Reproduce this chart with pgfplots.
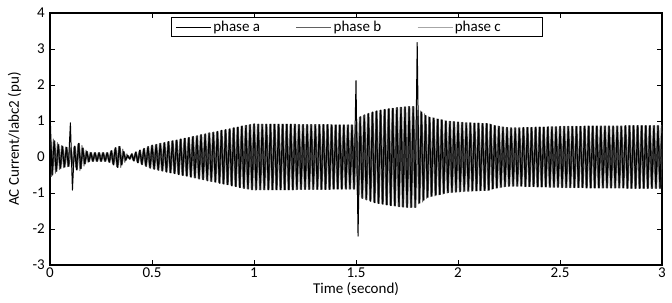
\documentclass[border=0pt]{standalone}
\usepackage{fontspec}
\setmainfont{Carlito}
\usepackage{pgfplots}
\pgfplotsset{compat=1.18}
\usepackage{pgfplotstable}
\pgfplotstableread{
t a b c
0.00 1.30 0.50 -0.55
0.01 -0.50 -0.50 0.50
0.02 0.45 0.45 -0.45
0.03 -0.40 -0.40 0.40
0.04 0.35 0.35 -0.35
0.05 -0.32 -0.32 0.32
0.06 0.30 0.30 -0.30
0.07 -0.28 -0.28 0.28
0.08 0.27 0.27 -0.27
0.09 -0.26 -0.26 0.26
0.10 0.95 0.26 -0.26
0.11 -0.92 -0.27 0.27
0.12 0.30 0.30 -0.30
0.13 -0.36 -0.36 0.36
0.14 0.38 0.38 -0.38
0.15 -0.32 -0.32 0.32
0.16 0.25 0.25 -0.25
0.17 -0.19 -0.19 0.19
0.18 0.15 0.15 -0.15
0.19 -0.13 -0.13 0.13
0.20 0.12 0.12 -0.12
0.21 -0.12 -0.12 0.12
0.22 0.12 0.12 -0.12
0.23 -0.12 -0.12 0.12
0.24 0.12 0.12 -0.12
0.25 -0.12 -0.12 0.12
0.26 0.12 0.12 -0.12
0.27 -0.12 -0.12 0.12
0.28 0.12 0.12 -0.12
0.29 -0.15 -0.15 0.15
0.30 0.18 0.18 -0.18
0.31 -0.22 -0.22 0.22
0.32 0.26 0.26 -0.26
0.33 -0.29 -0.29 0.29
0.34 0.29 0.29 -0.29
0.35 -0.22 -0.22 0.22
0.36 0.15 0.15 -0.15
0.37 -0.09 -0.09 0.09
0.38 0.04 0.04 -0.04
0.39 -0.06 -0.06 0.06
0.40 0.09 0.09 -0.09
0.41 -0.11 -0.11 0.11
0.42 0.14 0.14 -0.14
0.43 -0.16 -0.16 0.16
0.44 0.19 0.19 -0.19
0.45 -0.21 -0.21 0.21
0.46 0.24 0.24 -0.24
0.47 -0.26 -0.26 0.26
0.48 0.29 0.29 -0.29
0.49 -0.31 -0.31 0.31
0.50 0.33 0.33 -0.33
0.51 -0.34 -0.34 0.34
0.52 0.35 0.35 -0.35
0.53 -0.37 -0.37 0.37
0.54 0.38 0.38 -0.38
0.55 -0.39 -0.39 0.39
0.56 0.40 0.40 -0.40
0.57 -0.42 -0.42 0.42
0.58 0.43 0.43 -0.43
0.59 -0.44 -0.44 0.44
0.60 0.45 0.45 -0.45
0.61 -0.46 -0.46 0.46
0.62 0.47 0.47 -0.47
0.63 -0.49 -0.49 0.49
0.64 0.50 0.50 -0.50
0.65 -0.51 -0.51 0.51
0.66 0.52 0.52 -0.52
0.67 -0.53 -0.53 0.53
0.68 0.54 0.54 -0.54
0.69 -0.56 -0.56 0.56
0.70 0.57 0.57 -0.57
0.71 -0.58 -0.58 0.58
0.72 0.59 0.59 -0.59
0.73 -0.61 -0.61 0.61
0.74 0.62 0.62 -0.62
0.75 -0.63 -0.63 0.63
0.76 0.64 0.64 -0.64
0.77 -0.66 -0.66 0.66
0.78 0.67 0.67 -0.67
0.79 -0.68 -0.68 0.68
0.80 0.69 0.69 -0.69
0.81 -0.70 -0.70 0.70
0.82 0.71 0.71 -0.71
0.83 -0.73 -0.73 0.73
0.84 0.74 0.74 -0.74
0.85 -0.75 -0.75 0.75
0.86 0.76 0.76 -0.76
0.87 -0.77 -0.77 0.77
0.88 0.78 0.78 -0.78
0.89 -0.80 -0.80 0.80
0.90 0.81 0.81 -0.81
0.91 -0.82 -0.82 0.82
0.92 0.83 0.83 -0.83
0.93 -0.85 -0.85 0.85
0.94 0.86 0.86 -0.86
0.95 -0.87 -0.87 0.87
0.96 0.88 0.88 -0.88
0.97 -0.89 -0.89 0.89
0.98 0.90 0.90 -0.90
0.99 -0.91 -0.91 0.91
1.00 0.92 0.92 -0.92
1.01 -0.91 -0.91 0.91
1.02 0.91 0.91 -0.91
1.03 -0.91 -0.91 0.91
1.04 0.91 0.91 -0.91
1.05 -0.91 -0.91 0.91
1.06 0.91 0.91 -0.91
1.07 -0.91 -0.91 0.91
1.08 0.91 0.91 -0.91
1.09 -0.91 -0.91 0.91
1.10 0.91 0.91 -0.91
1.11 -0.91 -0.91 0.91
1.12 0.91 0.91 -0.91
1.13 -0.91 -0.91 0.91
1.14 0.91 0.91 -0.91
1.15 -0.91 -0.91 0.91
1.16 0.91 0.91 -0.91
1.17 -0.91 -0.91 0.91
1.18 0.91 0.91 -0.91
1.19 -0.91 -0.91 0.91
1.20 0.91 0.91 -0.91
1.21 -0.90 -0.90 0.90
1.22 0.90 0.90 -0.90
1.23 -0.90 -0.90 0.90
1.24 0.90 0.90 -0.90
1.25 -0.90 -0.90 0.90
1.26 0.90 0.90 -0.90
1.27 -0.90 -0.90 0.90
1.28 0.90 0.90 -0.90
1.29 -0.90 -0.90 0.90
1.30 0.90 0.90 -0.90
1.31 -0.90 -0.90 0.90
1.32 0.90 0.90 -0.90
1.33 -0.90 -0.90 0.90
1.34 0.90 0.90 -0.90
1.35 -0.90 -0.90 0.90
1.36 0.90 0.90 -0.90
1.37 -0.90 -0.90 0.90
1.38 0.89 0.89 -0.89
1.39 -0.89 -0.89 0.89
1.40 0.89 0.89 -0.89
1.41 -0.89 -0.89 0.89
1.42 0.89 0.89 -0.89
1.43 -0.89 -0.89 0.89
1.44 0.89 0.89 -0.89
1.45 -0.89 -0.89 0.89
1.46 0.89 0.89 -0.89
1.47 -0.89 -0.89 0.89
1.48 0.89 0.89 -0.89
1.49 -0.89 -0.89 0.89
1.50 2.12 1.05 -1.05
1.51 -2.20 -1.10 1.10
1.52 1.12 1.12 -1.12
1.53 -1.15 -1.15 1.15
1.54 1.17 1.17 -1.17
1.55 -1.19 -1.19 1.19
1.56 1.21 1.21 -1.21
1.57 -1.23 -1.23 1.23
1.58 1.25 1.25 -1.25
1.59 -1.27 -1.27 1.27
1.60 1.28 1.28 -1.28
1.61 -1.29 -1.29 1.29
1.62 1.30 1.30 -1.30
1.63 -1.31 -1.31 1.31
1.64 1.32 1.32 -1.32
1.65 -1.33 -1.33 1.33
1.66 1.34 1.34 -1.34
1.67 -1.35 -1.35 1.35
1.68 1.35 1.35 -1.35
1.69 -1.36 -1.36 1.36
1.70 1.37 1.37 -1.37
1.71 -1.38 -1.38 1.38
1.72 1.38 1.38 -1.38
1.73 -1.39 -1.39 1.39
1.74 1.39 1.39 -1.39
1.75 -1.40 -1.40 1.40
1.76 1.40 1.40 -1.40
1.77 -1.40 -1.40 1.40
1.78 1.40 1.40 -1.40
1.79 -1.40 -1.40 1.40
1.80 3.18 1.30 -1.30
1.81 -1.28 -1.28 1.28
1.82 1.25 1.25 -1.25
1.83 -1.20 -1.20 1.20
1.84 1.15 1.15 -1.15
1.85 -1.12 -1.12 1.12
1.86 1.10 1.10 -1.10
1.87 -1.09 -1.09 1.09
1.88 1.08 1.08 -1.08
1.89 -1.06 -1.06 1.06
1.90 1.05 1.05 -1.05
1.91 -1.04 -1.04 1.04
1.92 1.03 1.03 -1.03
1.93 -1.01 -1.01 1.01
1.94 1.00 1.00 -1.00
1.95 -0.99 -0.99 0.99
1.96 0.99 0.99 -0.99
1.97 -0.98 -0.98 0.98
1.98 0.98 0.98 -0.98
1.99 -0.97 -0.97 0.97
2.00 0.97 0.97 -0.97
2.01 -0.96 -0.96 0.96
2.02 0.96 0.96 -0.96
2.03 -0.95 -0.95 0.95
2.04 0.95 0.95 -0.95
2.05 -0.95 -0.95 0.95
2.06 0.95 0.95 -0.95
2.07 -0.94 -0.94 0.94
2.08 0.94 0.94 -0.94
2.09 -0.94 -0.94 0.94
2.10 0.94 0.94 -0.94
2.11 -0.93 -0.93 0.93
2.12 0.93 0.93 -0.93
2.13 -0.93 -0.93 0.93
2.14 0.93 0.93 -0.93
2.15 -0.92 -0.92 0.92
2.16 0.90 0.90 -0.90
2.17 -0.88 -0.88 0.88
2.18 0.87 0.87 -0.87
2.19 -0.86 -0.86 0.86
2.20 0.85 0.85 -0.85
2.21 -0.84 -0.84 0.84
2.22 0.83 0.83 -0.83
2.23 -0.82 -0.82 0.82
2.24 0.82 0.82 -0.82
2.25 -0.81 -0.81 0.81
2.26 0.81 0.81 -0.81
2.27 -0.81 -0.81 0.81
2.28 0.81 0.81 -0.81
2.29 -0.81 -0.81 0.81
2.30 0.81 0.81 -0.81
2.31 -0.81 -0.81 0.81
2.32 0.82 0.82 -0.82
2.33 -0.82 -0.82 0.82
2.34 0.82 0.82 -0.82
2.35 -0.82 -0.82 0.82
2.36 0.82 0.82 -0.82
2.37 -0.82 -0.82 0.82
2.38 0.83 0.83 -0.83
2.39 -0.83 -0.83 0.83
2.40 0.83 0.83 -0.83
2.41 -0.83 -0.83 0.83
2.42 0.83 0.83 -0.83
2.43 -0.83 -0.83 0.83
2.44 0.84 0.84 -0.84
2.45 -0.84 -0.84 0.84
2.46 0.84 0.84 -0.84
2.47 -0.84 -0.84 0.84
2.48 0.84 0.84 -0.84
2.49 -0.84 -0.84 0.84
2.50 0.85 0.85 -0.85
2.51 -0.85 -0.85 0.85
2.52 0.85 0.85 -0.85
2.53 -0.85 -0.85 0.85
2.54 0.85 0.85 -0.85
2.55 -0.85 -0.85 0.85
2.56 0.85 0.85 -0.85
2.57 -0.85 -0.85 0.85
2.58 0.85 0.85 -0.85
2.59 -0.85 -0.85 0.85
2.60 0.85 0.85 -0.85
2.61 -0.85 -0.85 0.85
2.62 0.86 0.86 -0.86
2.63 -0.86 -0.86 0.86
2.64 0.86 0.86 -0.86
2.65 -0.86 -0.86 0.86
2.66 0.86 0.86 -0.86
2.67 -0.86 -0.86 0.86
2.68 0.86 0.86 -0.86
2.69 -0.86 -0.86 0.86
2.70 0.86 0.86 -0.86
2.71 -0.86 -0.86 0.86
2.72 0.86 0.86 -0.86
2.73 -0.86 -0.86 0.86
2.74 0.86 0.86 -0.86
2.75 -0.86 -0.86 0.86
2.76 0.86 0.86 -0.86
2.77 -0.86 -0.86 0.86
2.78 0.86 0.86 -0.86
2.79 -0.86 -0.86 0.86
2.80 0.86 0.86 -0.86
2.81 -0.86 -0.86 0.86
2.82 0.87 0.87 -0.87
2.83 -0.87 -0.87 0.87
2.84 0.87 0.87 -0.87
2.85 -0.87 -0.87 0.87
2.86 0.87 0.87 -0.87
2.87 -0.87 -0.87 0.87
2.88 0.87 0.87 -0.87
2.89 -0.87 -0.87 0.87
2.90 0.87 0.87 -0.87
2.91 -0.87 -0.87 0.87
2.92 0.87 0.87 -0.87
2.93 -0.87 -0.87 0.87
2.94 0.87 0.87 -0.87
2.95 -0.87 -0.87 0.87
2.96 0.87 0.87 -0.87
2.97 -0.87 -0.87 0.87
2.98 0.87 0.87 -0.87
2.99 -0.87 -0.87 0.87
3.00 0.87 0.87 -0.87
}\datatable
\begin{document}
\fontsize{15bp}{18bp}\selectfont
\begin{tikzpicture}
\begin{axis}[
  scale only axis, width=612bp, height=252bp,
  xmin=0, xmax=3, ymin=-3, ymax=4,
  xtick={0,0.5,1,1.5,2,2.5,3}, ytick={-3,-2,-1,0,1,2,3,4},
  xticklabels={0,0.5,1,1.5,2,2.5,3},
  tick align=inside, major tick length=5bp,
  tick style={black, line width=0.8bp},
  /pgf/number format/assume math mode=true,
  ticklabel style={font=\fontsize{15bp}{18bp}\selectfont},
  label style={font=\fontsize{15bp}{18bp}\selectfont},
  xticklabel style={yshift=2bp},
  axis line style={line width=1.2bp},
  xlabel={Time (second)}, ylabel={AC Current/Iabc2 (pu)},
  xlabel style={yshift=6bp}, ylabel style={yshift=1bp},
  legend columns=3,
  legend style={at={(0.198,0.985)}, anchor=north west, draw=black, line width=1bp,
    font=\fontsize{15bp}{18bp}\selectfont, inner xsep=4bp, inner ysep=1.5bp,
    /tikz/every even column/.append style={column sep=34bp}},
  legend image code/.code={\draw[#1] (0bp,0bp) -- (35bp,0bp);},
]
\addlegendimage{black, line width=0.6bp}
\addlegendimage{black!62, line width=0.6bp}
\addlegendimage{black!35, line width=0.6bp}
\legend{phase a, phase b, phase c\rule{36bp}{0pt}}
\addplot[forget plot, black!55, line width=1.0bp, line join=round] table[x expr=\thisrow{t}+0.0067, y=c] {\datatable};
\addplot[forget plot, black!75, line width=1.0bp, line join=round] table[x expr=\thisrow{t}+0.0033, y=b] {\datatable};
\addplot[forget plot, black, line width=1.0bp, line join=round] table[x=t, y=a] {\datatable};
\end{axis}
\pgfresetboundingbox
\useasboundingbox ([shift={(-50bp,-38bp)}]current axis.south west) rectangle ([shift={(10bp,13bp)}]current axis.north east);
\end{tikzpicture}
\end{document}
